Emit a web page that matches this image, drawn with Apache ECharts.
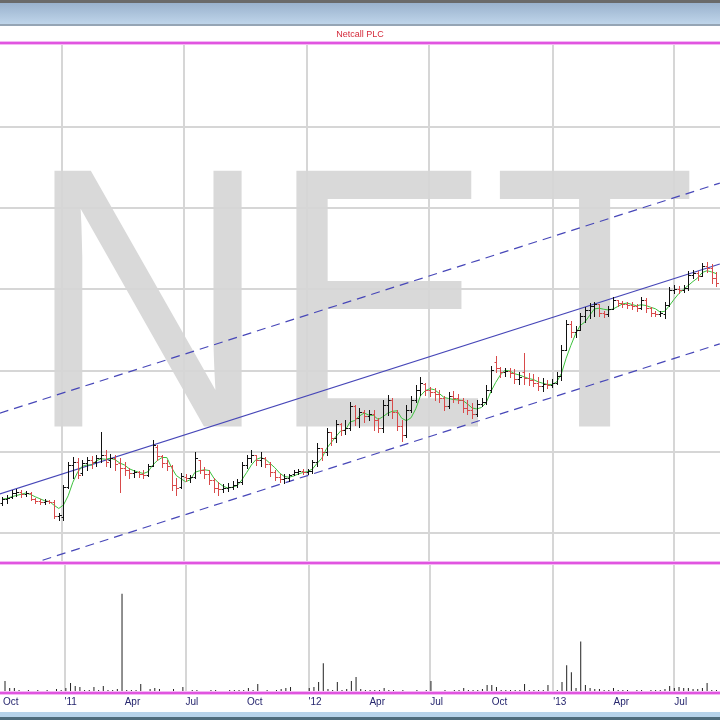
<!DOCTYPE html>
<html><head><meta charset="utf-8">
<style>html,body{margin:0;padding:0;background:#fff}#c{width:720px;height:720px}</style>
<script src="https://cdn.jsdelivr.net/npm/echarts@6/dist/echarts.min.js"></script>
</head><body><div id="c"></div>
<script>
const chartTitle = 'Netcall PLC';
const watermark = 'NET';
const weeks = ['2010-10-04','2010-10-11','2010-10-18','2010-10-25','2010-11-01','2010-11-08','2010-11-15','2010-11-22','2010-11-29','2010-12-06','2010-12-13','2010-12-20','2010-12-27',
'2011-01-03','2011-01-10','2011-01-17','2011-01-24','2011-01-31','2011-02-07','2011-02-14','2011-02-21','2011-02-28','2011-03-07','2011-03-14','2011-03-21','2011-03-28',
'2011-04-04','2011-04-11','2011-04-18','2011-04-25','2011-05-02','2011-05-09','2011-05-16','2011-05-23','2011-05-30','2011-06-06','2011-06-13','2011-06-20','2011-06-27',
'2011-07-04','2011-07-11','2011-07-18','2011-07-25','2011-08-01','2011-08-08','2011-08-15','2011-08-22','2011-08-29','2011-09-05','2011-09-12','2011-09-19','2011-09-26',
'2011-10-03','2011-10-10','2011-10-17','2011-10-24','2011-10-31','2011-11-07','2011-11-14','2011-11-21','2011-11-28','2011-12-05','2011-12-12','2011-12-19','2011-12-26',
'2012-01-02','2012-01-09','2012-01-16','2012-01-23','2012-01-30','2012-02-06','2012-02-13','2012-02-20','2012-02-27','2012-03-05','2012-03-12','2012-03-19','2012-03-26',
'2012-04-02','2012-04-09','2012-04-16','2012-04-23','2012-04-30','2012-05-07','2012-05-14','2012-05-21','2012-05-28','2012-06-04','2012-06-11','2012-06-18','2012-06-25',
'2012-07-02','2012-07-09','2012-07-16','2012-07-23','2012-07-30','2012-08-06','2012-08-13','2012-08-20','2012-08-27','2012-09-03','2012-09-10','2012-09-17',
'2012-09-24','2012-10-01','2012-10-08','2012-10-15','2012-10-22','2012-10-29','2012-11-05','2012-11-12','2012-11-19','2012-11-26','2012-12-03',
'2012-12-10','2012-12-17','2012-12-24','2012-12-31','2013-01-07','2013-01-14','2013-01-21','2013-01-28','2013-02-04','2013-02-11','2013-02-18',
'2013-02-25','2013-03-04','2013-03-11','2013-03-18','2013-03-25','2013-04-01','2013-04-08','2013-04-15','2013-04-22','2013-04-29','2013-05-06',
'2013-05-13','2013-05-20','2013-05-27','2013-06-03','2013-06-10','2013-06-17','2013-06-24','2013-07-01','2013-07-08','2013-07-15','2013-07-22',
'2013-07-29','2013-08-05','2013-08-12','2013-08-19','2013-08-26','2013-09-02'];
const opens = [11.85,12.09,12.22,12.46,12.53,12.40,12.46,12.09,11.97,11.91,11.97,11.91,11.05,
10.99,12.83,14.19,14.37,13.70,14.31,14.50,14.37,14.62,14.80,14.50,14.62,14.31,
14.00,13.88,13.70,13.76,13.63,13.57,14.13,15.30,14.74,14.31,14.13,12.96,12.83,
13.45,13.39,13.45,14.50,13.88,13.63,13.26,12.77,12.71,12.77,12.83,12.96,13.14,
14.19,14.62,14.80,14.50,14.62,14.25,13.76,13.45,13.33,13.39,13.63,13.76,13.82,
13.76,13.82,14.37,15.24,14.99,16.22,15.85,16.71,16.34,16.47,17.82,17.08,17.45,
17.21,17.33,16.96,16.47,17.88,18.19,17.45,16.59,16.04,17.58,18.19,18.81,19.18,
18.81,18.69,18.56,18.32,17.82,18.44,18.32,18.19,17.70,17.58,17.33,17.95,
18.07,18.81,20.53,20.16,19.92,19.98,19.86,19.49,19.92,19.55,19.42,
19.24,19.06,19.18,19.12,19.24,19.67,21.27,22.87,22.38,22.50,23.37,
23.74,23.98,24.11,23.55,23.49,23.80,24.35,24.17,24.11,24.04,23.98,
23.86,24.35,23.86,23.55,23.49,23.49,24.04,24.97,25.03,24.97,25.09,
25.89,26.02,25.83,26.45,26.32,25.71];
const highs = [12.22,12.34,12.65,12.71,12.65,12.59,12.53,12.16,12.09,12.09,12.03,12.03,11.23,
12.96,14.37,14.68,14.62,14.50,14.68,14.74,14.80,16.22,15.11,14.87,14.80,14.62,
14.37,14.00,13.88,13.82,13.88,14.25,15.73,15.42,14.80,14.50,14.19,13.39,13.70,
13.63,13.57,14.99,14.50,14.07,13.88,13.39,13.14,13.02,13.08,13.20,13.33,14.37,
14.80,15.11,14.80,14.99,14.68,14.37,13.88,13.63,13.63,13.63,13.88,13.94,13.94,
13.94,14.50,15.54,15.24,16.47,16.22,16.96,16.78,16.96,18.07,17.88,17.70,17.58,
17.58,17.58,17.08,18.19,18.50,18.32,17.58,16.96,17.88,18.44,19.12,19.61,19.24,
18.99,18.93,18.81,18.44,18.69,18.75,18.56,18.32,18.19,18.01,18.19,18.32,
19.12,20.29,20.90,20.23,20.16,20.16,20.10,19.92,21.09,19.86,19.79,
19.61,19.55,19.42,19.49,19.92,21.58,23.12,23.06,22.75,23.55,23.92,
24.17,24.23,24.11,23.68,23.98,24.54,24.35,24.29,24.23,24.23,24.11,
24.54,24.48,23.92,23.68,23.68,24.23,25.15,25.28,25.22,25.28,26.14,
26.20,26.14,26.63,26.69,26.57,26.08];
const lows = [11.72,11.85,12.16,12.28,12.22,12.28,12.03,11.85,11.79,11.79,11.85,10.92,10.80,
10.80,12.77,13.39,13.39,13.57,13.88,14.00,14.13,14.37,14.13,14.07,13.88,12.53,
13.57,13.39,13.45,13.45,13.39,13.51,14.13,14.50,14.07,13.88,12.65,12.34,12.77,
13.20,13.14,13.39,13.70,13.39,13.02,12.53,12.34,12.53,12.59,12.71,12.83,13.02,
14.00,14.37,14.19,14.13,14.07,13.51,13.26,13.14,13.08,13.20,13.57,13.63,13.63,
13.63,13.70,14.13,14.50,14.80,15.42,15.61,16.04,16.10,16.34,16.65,16.53,16.84,
16.96,16.34,16.22,16.22,17.27,17.08,16.34,15.67,15.91,17.45,18.07,18.50,18.50,
18.44,18.19,18.07,17.58,17.70,18.07,18.01,17.45,17.33,17.08,17.21,17.82,
17.95,18.69,19.92,19.61,19.67,19.61,19.24,19.18,19.18,19.12,19.06,
18.81,18.75,18.93,18.99,19.18,19.42,21.27,22.07,22.07,22.50,23.00,
23.24,23.37,23.37,23.31,23.37,23.80,23.98,23.92,23.86,23.80,23.68,
23.80,23.61,23.37,23.37,23.37,23.24,23.98,24.78,24.78,24.85,24.97,
25.71,25.58,25.83,26.08,25.40,25.22];
const closes = [12.09,12.16,12.46,12.53,12.40,12.46,12.09,11.97,11.91,11.97,11.91,11.05,11.11,
12.83,14.19,14.37,13.57,14.31,14.50,14.37,14.62,14.80,14.37,14.62,14.25,14.00,
13.88,13.70,13.76,13.63,13.57,14.13,15.42,14.74,14.31,14.13,12.96,12.77,13.51,
13.39,13.45,14.62,13.88,13.63,13.26,12.77,12.71,12.77,12.83,12.96,13.14,14.19,
14.62,14.80,14.50,14.62,14.25,13.76,13.45,13.33,13.39,13.57,13.76,13.82,13.76,
13.82,14.37,15.24,14.99,16.22,15.85,16.71,16.34,16.47,17.82,17.08,17.45,17.21,
17.33,16.96,16.47,17.88,18.19,17.45,16.59,16.04,17.58,18.19,18.81,19.24,18.81,
18.69,18.56,18.32,17.82,18.44,18.32,18.19,17.70,17.58,17.33,17.95,18.07,
18.81,20.04,20.16,19.92,19.98,19.86,19.49,19.61,19.55,19.42,19.24,
19.06,19.18,19.12,19.24,19.67,21.27,22.87,22.38,22.50,23.37,23.74,
23.98,24.11,23.55,23.49,23.80,24.35,24.17,24.11,24.04,23.98,23.86,
24.35,23.86,23.55,23.49,23.55,24.04,24.97,25.03,24.97,25.09,25.89,
26.02,25.83,26.45,26.32,25.71,25.40];
const volumes = [1.2,0.5,0.5,0.3,0.2,0.3,0.2,0.3,0.2,0.3,0.2,0.4,0.3,
0.5,1.0,0.7,0.6,0.3,0.3,0.6,0.3,0.7,0.3,0.3,0.4,10.0,
0.3,0.3,0.3,0.9,0.2,0.4,0.5,0.4,0.2,0.2,0.4,0.2,0.6,
0.2,0.3,0.3,0.2,0.2,0.3,0.3,0.2,0.2,0.3,0.3,0.3,0.3,
0.5,0.3,0.9,0.2,0.3,0.2,0.3,0.4,0.5,0.6,0.2,0.2,0.2,
0.5,0.6,1.1,3.0,0.4,0.3,1.1,0.3,0.4,1.2,1.6,0.4,0.3,
0.3,0.3,0.3,0.5,0.3,0.3,0.2,0.3,0.2,0.2,0.3,0.2,0.3,
1.2,0.2,0.2,0.3,0.2,0.3,0.3,0.5,0.3,0.3,0.3,0.4,
0.8,0.8,0.6,0.3,0.3,0.3,0.3,0.3,0.9,0.3,0.3,
0.3,0.3,0.8,0.2,0.3,1.1,2.8,2.1,0.5,5.2,0.8,
0.5,0.4,0.4,0.3,0.3,0.5,0.3,0.3,0.3,0.2,0.3,
0.3,0.2,0.3,0.3,0.3,0.4,0.7,0.5,0.6,0.5,0.5,
0.4,0.4,0.5,1.0,0.3,0.3];
const maPeriod = 4;
const channelDates = ['2010-09-30','2013-09-07'];
const channelUpper = [17.38, 31.55];
const channelMid = [12.40, 26.57];
const channelLower = [7.48, 21.65];
const gridPrices = [10, 15, 20, 25, 30, 35];
const gridDates = ['2011-01-01','2011-07-01','2012-01-01','2012-07-01','2013-01-01','2013-07-01'];
const tickDates = ['2010-10-01','2011-01-01','2011-04-01','2011-07-01','2011-10-01','2012-01-01','2012-04-01','2012-07-01','2012-10-01','2013-01-01','2013-04-01','2013-07-01'];
const tickLabels = ['Oct',"'11",'Apr','Jul','Oct',"'12",'Apr','Jul','Oct',"'13",'Apr','Jul'];

function ts(s){ const p = s.split('-').map(Number); return new Date(p[0], p[1]-1, p[2]).getTime(); }
const xMin = new Date(2010, 8, 30, 10).getTime();
const xMax = new Date(2013, 8, 7, 7).getTime();
const tickTs = tickDates.map(ts);

const ohlcData = weeks.map((w,i)=>[ts(w), opens[i], highs[i], lows[i], closes[i]]);
const maData = weeks.map((w,i)=>{
  const s = Math.max(0, i-maPeriod+1); let sum=0;
  for(let k=s;k<=i;k++) sum+=closes[k];
  return [ts(w), +(sum/(i-s+1)).toFixed(3)];
});
const volData = weeks.map((w,i)=>[ts(w), volumes[i]]);

const chart = echarts.init(document.getElementById('c'), null, {renderer:'canvas'});

function renderOHLC(params, api){
  const t=api.value(0), o=api.value(1), h=api.value(2), l=api.value(3), c=api.value(4);
  const pH=api.coord([t,h]), pL=api.coord([t,l]), pO=api.coord([t,o]), pC=api.coord([t,c]);
  const x=Math.round(pH[0])+0.5;
  const col = c>=o ? '#111111' : '#d84a4a';
  const yo=Math.round(pO[1])+0.5, yc=Math.round(pC[1])+0.5;
  return {type:'group', children:[
    {type:'line', shape:{x1:x,y1:Math.round(pH[1]),x2:x,y2:Math.round(pL[1])+1}, style:{stroke:col,lineWidth:1}},
    {type:'line', shape:{x1:x-2,y1:yo,x2:x,y2:yo}, style:{stroke:col,lineWidth:1}},
    {type:'line', shape:{x1:x,y1:yc,x2:x+2.5,y2:yc}, style:{stroke:col,lineWidth:1}}
  ]};
}
function renderHGrid(params, api){
  const p=api.coord([api.value(0), api.value(1)]);
  const cs=params.coordSys;
  const y=Math.round(p[1]);
  return {type:'line', shape:{x1:cs.x,y1:y,x2:cs.x+cs.width,y2:y}, style:{stroke:'#d6d6d6',lineWidth:2}};
}
function renderVGrid(params, api){
  const p=api.coord([api.value(0), api.value(1)]);
  const cs=params.coordSys;
  const x=Math.round(p[0]);
  return {type:'line', shape:{x1:x,y1:cs.y,x2:x,y2:cs.y+cs.height}, style:{stroke:'#d6d6d6',lineWidth:2}};
}

const magenta = (y)=>[
  {type:'line', z:20, shape:{x1:0,y1:y,x2:720,y2:y}, style:{stroke:'#f4b8f4',lineWidth:4}},
  {type:'line', z:21, shape:{x1:0,y1:y,x2:720,y2:y}, style:{stroke:'#e055e0',lineWidth:2}}
];

const hiddenX = (gi)=>({type:'value',gridIndex:gi,min:xMin,max:xMax,axisLine:{show:false},axisTick:{show:false},axisLabel:{show:false},splitLine:{show:false}});

const option = {
  animation:false,
  backgroundColor:'#ffffff',
  grid:[{left:0,right:0,top:44,height:519},{left:0,right:0,top:564,height:129}],
  xAxis:[
    hiddenX(0),
    {type:'value',gridIndex:1,min:xMin,max:xMax,axisLine:{show:false},axisTick:{show:false},splitLine:{show:false},
     axisLabel:{customValues:tickTs, formatter:function(v){const i=tickTs.indexOf(v); return i>=0?tickLabels[i]:'';},
       color:'#26266e', fontSize:10, fontFamily:'Liberation Sans, Arial, sans-serif', align:'left', margin:4, hideOverlap:false, showMinLabel:true, showMaxLabel:true}}
  ],
  yAxis:[
    {type:'value',gridIndex:0,min:8.152,max:40.12,show:false},
    {type:'value',gridIndex:1,min:0,max:13,show:false}
  ],
  graphic:[
    {type:'text', z:0, x:27, y:324, scaleY:1.11, silent:true,
     style:{text:watermark, font:'335px "Liberation Sans", Arial, sans-serif', fill:'#d9d9d9', align:'left', verticalAlign:'middle'}},
    {type:'rect', z:20, shape:{x:0,y:0,width:720,height:3}, style:{fill:'#6a6a6a'}},
    {type:'rect', z:20, shape:{x:0,y:3,width:720,height:21}, style:{fill:new echarts.graphic.LinearGradient(0,0,0,1,[{offset:0,color:'#9ab2cd'},{offset:1,color:'#bfd5ea'}])}},
    {type:'rect', z:20, shape:{x:0,y:24,width:720,height:2}, style:{fill:'#95a5b5'}},
    {type:'text', z:20, x:360, y:35, style:{text:chartTitle, font:'9px "Liberation Sans", Arial, sans-serif', fill:'#d42a3a', align:'center', verticalAlign:'middle'}},
    ...magenta(43), ...magenta(563), ...magenta(693),
    {type:'rect', z:20, shape:{x:0,y:712,width:720,height:5}, style:{fill:'#b6d3ea'}},
    {type:'rect', z:20, shape:{x:0,y:717,width:720,height:3}, style:{fill:'#4e6c7c'}}
  ],
  series:[
    {type:'custom', xAxisIndex:0, yAxisIndex:0, z:1, silent:true, renderItem:renderHGrid,
     data:gridPrices.map(v=>[xMin, v]), encode:{x:0,y:1}},
    {type:'custom', xAxisIndex:0, yAxisIndex:0, z:1, silent:true, renderItem:renderVGrid,
     data:gridDates.map(d=>[ts(d), 20]), encode:{x:0,y:1}},
    {type:'custom', xAxisIndex:1, yAxisIndex:1, z:1, silent:true, renderItem:renderVGrid,
     data:gridDates.map(d=>[ts(d), 1]), encode:{x:0,y:1}},
    {type:'line', xAxisIndex:0, yAxisIndex:0, z:3, silent:true, showSymbol:false, symbol:'none',
     data:channelDates.map((d,i)=>[ts(d), channelUpper[i]]), lineStyle:{color:'#4747b8',width:1.2,type:[9,6]}},
    {type:'line', xAxisIndex:0, yAxisIndex:0, z:3, silent:true, showSymbol:false, symbol:'none',
     data:channelDates.map((d,i)=>[ts(d), channelMid[i]]), lineStyle:{color:'#4747b8',width:1.2}},
    {type:'line', xAxisIndex:0, yAxisIndex:0, z:3, silent:true, showSymbol:false, symbol:'none',
     data:channelDates.map((d,i)=>[ts(d), channelLower[i]]), lineStyle:{color:'#4747b8',width:1.2,type:[9,6]}},
    {type:'line', xAxisIndex:0, yAxisIndex:0, z:4, silent:true, showSymbol:false, symbol:'none',
     data:maData, lineStyle:{color:'#3cc23c',width:1}},
    {type:'custom', xAxisIndex:0, yAxisIndex:0, z:5, silent:true, renderItem:renderOHLC,
     data:ohlcData, encode:{x:0,y:[1,2,3,4]}},
    {type:'bar', xAxisIndex:1, yAxisIndex:1, z:5, silent:true, barWidth:1, itemStyle:{color:'#222222'}, data:volData}
  ]
};
chart.setOption(option);
</script></body></html>
